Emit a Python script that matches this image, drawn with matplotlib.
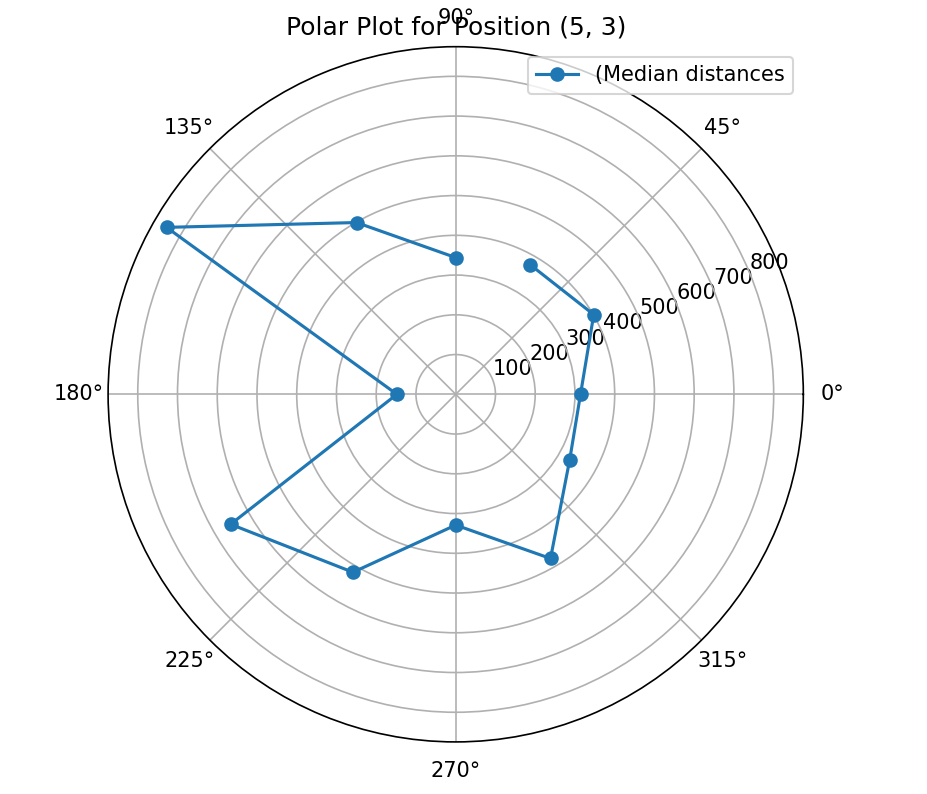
import numpy as np
import matplotlib.pyplot as plt

# Angles (degrees) in plotting order and median distances
angles_deg = [90, 120, 150, 180, 210, 240, 270, 300, 330, 360, 390, 420]
distances = [344, 499, 840, 148, 654, 517, 329, 477, 331, 314, 401, 376]

title = 'Polar Plot for Position (5, 3)'
label = '(Median distances'

fig = plt.figure(figsize=(927 / 150, 794 / 150), dpi=150)
ax = fig.add_axes([0.1166, 0.0656, 0.75, 0.8756], projection='polar')

ax.plot(np.deg2rad(angles_deg), distances, marker='o', label=label)
# fixed y keeps the title just above the axes, over the 90° label
ax.set_title(title, y=1.0)
ax.legend(loc='upper right')

fig.savefig('out.png', dpi=150)
